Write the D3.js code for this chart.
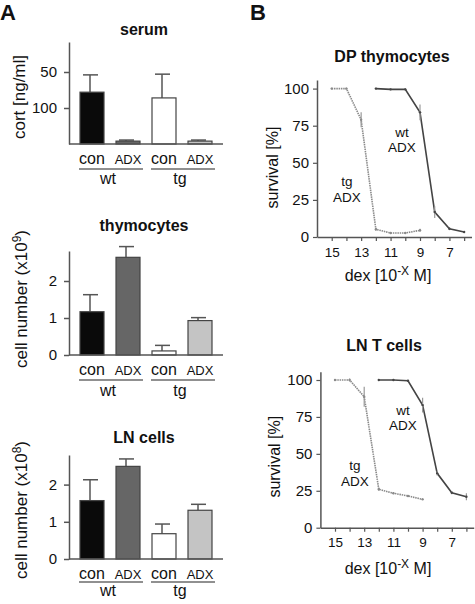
<!DOCTYPE html>
<html><head><meta charset="utf-8">
<script src="https://cdn.jsdelivr.net/npm/d3@7"></script>
<style>
body{margin:0;background:#fff}
text{font-family:"Liberation Sans",Arial,Helvetica,sans-serif;fill:#111}
</style>
</head><body>
<svg id="c" width="475" height="604"></svg>
<script>
// ---------- data ----------
const categories = ["con", "ADX", "con", "ADX"];
const groups = ["wt", "tg"];
const barFill = ["#0a0a0a", "#666666", "#ffffff", "#c4c4c4"];

const serumValues = [1.44, 0.08, 1.28, 0.08];
const serumErrors = [0.48, 0.03, 0.66, 0.03];
const serumTicks = [1, 2];
const serumTickLabels = ["100", "50"];

const thymValues = [1.17, 2.64, 0.11, 0.93];
const thymErrors = [0.46, 0.29, 0.15, 0.08];
const lnValues = [1.57, 2.49, 0.68, 1.31];
const lnErrors = [0.56, 0.20, 0.26, 0.16];
const countTicks = [0, 1, 2];

const doseTicks = [15, 14, 13, 12, 11, 10, 9, 8, 7, 6];
const doseLabels = [15, 13, 11, 9, 7];
const survTicks = [0, 25, 50, 75, 100];
const tgDoses = [15, 14, 13, 12, 11, 10, 9];
const wtDoses = [12, 11, 10, 9, 8, 7, 6];
const dpTg = [100, 100, 79, 5.2, 2.7, 2.7, 4.5];
const dpTgErr = [0.5, 0.5, 5, 1, 0.5, 0.5, 1];
const dpWt = [100, 99.5, 99.5, 84, 16.8, 5.6, 3.4];
const dpWtErr = [0.5, 0.5, 0.5, 5.3, 4, 1, 0.5];
const lnTg = [100, 100, 88.7, 26, 23.3, 21.5, 19.2];
const lnTgErr = [0.5, 1, 6.8, 1, 0.5, 0.5, 0.5];
const lnWt = [100, 100, 99.5, 83, 36.8, 23.7, 21];
const lnWtErr = [0.5, 0.5, 0.5, 5, 1.5, 1, 2.4];

// ---------- drawing ----------
const svg = d3.select("#c");
const AX = "#555";

function txt(x, y, s, size, opt = {}) {
  const t = svg.append("text").attr("x", x).attr("y", y)
    .attr("font-size", size).attr("text-anchor", opt.anchor || "middle")
    .attr("font-weight", opt.bold ? "bold" : "normal");
  if (opt.rotate) t.attr("transform", `rotate(-90,${x},${y})`);
  return t.text(s);
}

txt(0, 20, "A", 22, {bold: true, anchor: "start"});
txt(250, 20, "B", 22, {bold: true, anchor: "start"});

function barPanel(o) {
  const x = d3.scaleBand().domain(d3.range(categories.length))
    .range([74, 218]).paddingInner(1 / 3).paddingOuter(1 / 6);
  const y = d3.scaleLinear().domain([0, o.max]).range([o.y0, o.yTop]);
  const g = svg.append("g");

  // y axis
  const ax = g.append("g").attr("transform", `translate(69,0)`)
    .call(d3.axisLeft(y).tickValues(o.ticks).tickFormat((d, i) => o.tickLabels[i])
      .tickSize(5).tickSizeOuter(0).tickPadding(7));
  ax.select(".domain").attr("stroke", AX).attr("stroke-width", 1.5);
  ax.selectAll(".tick line").attr("stroke", AX).attr("stroke-width", 1.5);
  ax.selectAll(".tick text").attr("font-size", 15).attr("fill", "#111")
    .attr("font-family", '"Liberation Sans",Arial,sans-serif');

  // error bars (upward)
  const vals = o.values, errs = o.errors;
  g.selectAll(".err").data(vals).join("line")
    .attr("x1", (d, i) => x(i) + x.bandwidth() / 2 - 2).attr("x2", (d, i) => x(i) + x.bandwidth() / 2 - 2)
    .attr("y1", d => y(d)).attr("y2", (d, i) => y(d + errs[i]))
    .attr("stroke", AX).attr("stroke-width", 1.5);
  g.selectAll(".cap").data(vals).join("line")
    .attr("x1", (d, i) => x(i) + x.bandwidth() / 2 - 9).attr("x2", (d, i) => x(i) + x.bandwidth() / 2 + 6)
    .attr("y1", (d, i) => y(d + errs[i])).attr("y2", (d, i) => y(d + errs[i]))
    .attr("stroke", AX).attr("stroke-width", 1.5);

  // bars
  g.selectAll(".bar").data(vals).join("rect")
    .attr("x", (d, i) => x(i)).attr("width", x.bandwidth())
    .attr("y", d => y(d)).attr("height", d => o.y0 - y(d))
    .attr("fill", (d, i) => barFill[i]).attr("stroke", "#444").attr("stroke-width", 1.2);

  // baseline
  g.append("line").attr("x1", 69).attr("x2", 223).attr("y1", o.y0).attr("y2", o.y0)
    .attr("stroke", AX).attr("stroke-width", 1.5);

  // category labels
  categories.forEach((c, i) => {
    const cx = x(i) + x.bandwidth() / 2;
    txt(cx, o.y0 + o.catDy, c, c === "con" ? 16 : 13);
  });
  groups.forEach((gname, gi) => {
    const a = x(gi * 2), b = x(gi * 2 + 1) + x.bandwidth();
    g.append("line").attr("x1", a - 1).attr("x2", b + 3)
      .attr("y1", o.y0 + o.lineDy).attr("y2", o.y0 + o.lineDy)
      .attr("stroke", "#222").attr("stroke-width", 1.2);
    txt((a + b) / 2 - 2, o.y0 + o.grpDy, gname, 16);
  });

  // title + y label
  txt(144, o.titleY, o.title, 16, {bold: true});
  const yl = txt(o.ylX, (o.y0 + o.yTop) / 2 + o.ylDy, "", 17, {rotate: true});
  yl.text(o.ylabel);
  if (o.sup) yl.append("tspan").attr("dy", -6).attr("font-size", 12).text(o.sup);
  if (o.sup) yl.append("tspan").attr("dy", 6).text(")");
}

barPanel({y0: 144, yTop: 42, max: 102 / 36, values: serumValues, errors: serumErrors,
  ticks: serumTicks, tickLabels: serumTickLabels, title: "serum", titleY: 35,
  ylabel: "cort [ng/ml]", ylX: 25, ylDy: 4, catDy: 20, lineDy: 25, grpDy: 40});
barPanel({y0: 355, yTop: 251, max: 104 / 37, values: thymValues, errors: thymErrors,
  ticks: countTicks, tickLabels: countTicks.map(String), title: "thymocytes", titleY: 231,
  ylabel: "cell number (x10", sup: "9", ylX: 27, ylDy: -4, catDy: 20, lineDy: 25, grpDy: 41});
barPanel({y0: 559, yTop: 455, max: 104 / 37.2, values: lnValues, errors: lnErrors,
  ticks: countTicks, tickLabels: countTicks.map(String), title: "LN cells", titleY: 443,
  ylabel: "cell number (x10", sup: "8", ylX: 27, ylDy: 3, catDy: 20, lineDy: 23, grpDy: 37});

function linePanel(o) {
  const x = d3.scaleLinear().domain([16, 5.5]).range([o.xL, o.xR]);
  const y = d3.scaleLinear().domain([0, o.yMax]).range([o.y0, o.yTop]);
  const g = svg.append("g");

  const ay = g.append("g").attr("transform", `translate(${o.xL},0)`)
    .call(d3.axisLeft(y).tickValues(survTicks).tickSize(4).tickSizeOuter(0).tickPadding(4));
  const axx = g.append("g").attr("transform", `translate(0,${o.y0})`)
    .call(d3.axisBottom(x).tickValues(doseTicks).tickFormat(d => doseLabels.includes(d) ? d : "")
      .tickSize(4).tickSizeOuter(0).tickPadding(6));
  [ay, axx].forEach(a => {
    a.select(".domain").attr("stroke", AX).attr("stroke-width", 1.5);
    a.selectAll(".tick line").attr("stroke", AX).attr("stroke-width", 1.2);
    a.selectAll(".tick text").attr("fill", "#111").attr("font-family", '"Liberation Sans",Arial,sans-serif');
  });
  ay.selectAll(".tick text").attr("font-size", 15);
  axx.selectAll(".tick text").attr("font-size", 13.5);

  const series = [
    {d: tgDoses, v: o.tg, e: o.tgErr, color: "#8a8a8a", dash: "1.5,0.8"},
    {d: wtDoses, v: o.wt, e: o.wtErr, color: "#444", dash: null}
  ];
  series.forEach(s => {
    const pts = s.d.map((d, i) => ({d, v: s.v[i], e: s.e[i]}));
    g.append("path").datum(pts)
      .attr("d", d3.line().x(p => x(p.d)).y(p => y(p.v)))
      .attr("fill", "none").attr("stroke", s.color).attr("stroke-width", 1.6)
      .attr("stroke-dasharray", s.dash);
    g.selectAll(null).data(pts).join("line")
      .attr("x1", p => x(p.d)).attr("x2", p => x(p.d))
      .attr("y1", p => y(p.v - p.e)).attr("y2", p => y(p.v + p.e))
      .attr("stroke", "#999").attr("stroke-width", 1.2);
    g.selectAll(null).data(pts).join("circle")
      .attr("cx", p => x(p.d)).attr("cy", p => y(p.v)).attr("r", 1.2)
      .attr("fill", s.color);
  });

  txt(o.titleX, o.titleY, o.title, 16, {bold: true});
  txt(o.ylX, (o.y0 + o.yTop) / 2 + o.ylDy, "survival [%]", 16, {rotate: true});
  const xl = txt(388, o.xlY, "dex [10", 16);
  xl.append("tspan").attr("dy", -6).attr("font-size", 12).text("-X");
  xl.append("tspan").attr("dy", 6).text(" M]");

  txt(o.wtX, o.wtY, "wt", 13.5);
  txt(o.wtX, o.wtY + 15, "ADX", 13.5);
  txt(o.tgX, o.tgY, "tg", 13.5);
  txt(o.tgX, o.tgY + 16, "ADX", 13.5);
}

linePanel({xL: 317, xR: 471.5, y0: 237, yTop: 80, yMax: 157 / 148.4 * 100,
  tg: dpTg, tgErr: dpTgErr, wt: dpWt, wtErr: dpWtErr,
  title: "DP thymocytes", titleX: 392, titleY: 62, ylX: 278, ylDy: 9, xlY: 281,
  wtX: 402, wtY: 137, tgX: 347, tgY: 186});
linePanel({xL: 320.4, xR: 473.7, y0: 527.7, yTop: 371.7, yMax: 156 / 147.7 * 100,
  tg: lnTg, tgErr: lnTgErr, wt: lnWt, wtErr: lnWtErr,
  title: "LN T cells", titleX: 384, titleY: 351, ylX: 280, ylDy: 7, xlY: 574,
  wtX: 403, wtY: 415, tgX: 355, tgY: 470});
</script>
</body></html>
